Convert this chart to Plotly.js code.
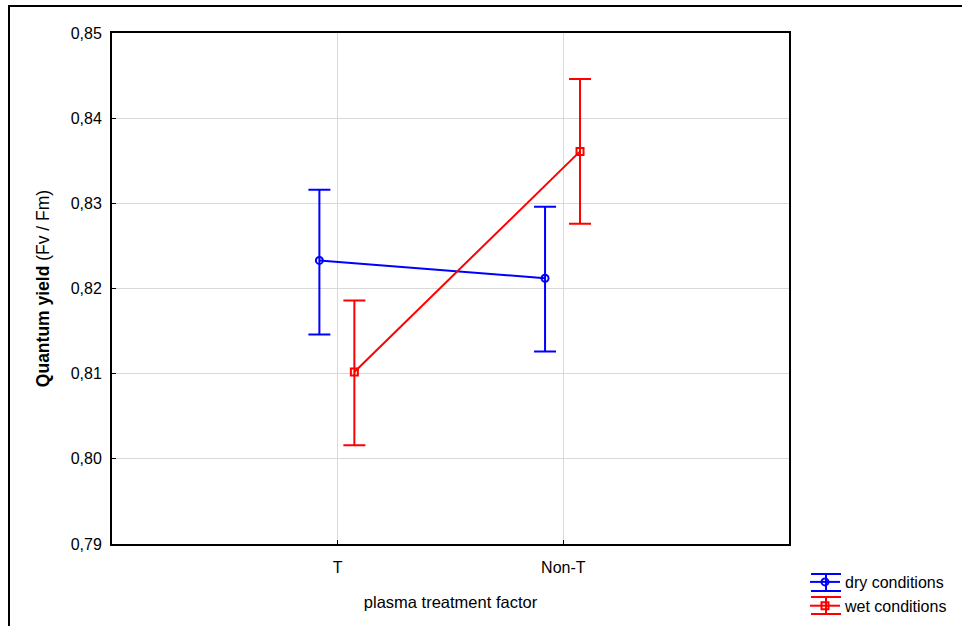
<!DOCTYPE html>
<html>
<head>
<meta charset="utf-8">
<script src="https://cdn.plot.ly/plotly-3.0.1.min.js"></script>
<style>html,body{margin:0;padding:0;background:#fff;}#chart{width:962px;height:626px;}</style>
</head>
<body>
<div id="chart"></div>
<script>
var categories = ['T', 'Non-T'];
var dryMean = [0.8233, 0.8212];
var dryUpper = [0.8316, 0.8296];
var dryLower = [0.8146, 0.8126];
var wetMean = [0.8102, 0.8361];
var wetUpper = [0.8186, 0.8446];
var wetLower = [0.8016, 0.8276];
var yTicks = [0.79, 0.80, 0.81, 0.82, 0.83, 0.84, 0.85];

var catIdx = categories.map(function (c, i) { return i; });
function offs(d) { return catIdx.map(function (i) { return i + d; }); }
function plus(u, m) { return u.map(function (v, i) { return v - m[i]; }); }
function minus(l, m) { return l.map(function (v, i) { return m[i] - v; }); }

var dry = {
  type: 'scatter', mode: 'lines+markers', name: 'dry conditions',
  x: offs(-0.081), y: dryMean,
  line: {color: '#0000ff', width: 2},
  marker: {symbol: 'circle-open', size: 7, color: '#0000ff', line: {width: 2, color: '#0000ff'}},
  error_y: {type: 'data', symmetric: false, array: plus(dryUpper, dryMean), arrayminus: minus(dryLower, dryMean),
            color: '#0000ff', thickness: 2, width: 11}
};
var wet = {
  type: 'scatter', mode: 'lines+markers', name: 'wet conditions',
  x: offs(0.074), y: wetMean,
  line: {color: '#ff0000', width: 2},
  marker: {symbol: 'square-open', size: 7, color: '#ff0000', line: {width: 2, color: '#ff0000'}},
  error_y: {type: 'data', symmetric: false, array: plus(wetUpper, wetMean), arrayminus: minus(wetLower, wetMean),
            color: '#ff0000', thickness: 2, width: 11}
};

var FAM = '"Liberation Sans", Arial, sans-serif';
var font = {family: FAM, size: 16, color: '#000'};
var L = 112, R = 173, T = 33, B = 82, W = 962, H = 626;
var pw = W - L - R, ph = H - T - B;
function px(x) { return (x - L) / pw; }
function py(y) { return (H - B - y) / ph; }

function legendIcon(cy, color) {
  return [
    {type: 'line', xref: 'paper', yref: 'paper', x0: px(811), x1: px(841), y0: py(cy - 8), y1: py(cy - 8), line: {color: color, width: 2}},
    {type: 'line', xref: 'paper', yref: 'paper', x0: px(811), x1: px(841), y0: py(cy + 9), y1: py(cy + 9), line: {color: color, width: 2}},
    {type: 'line', xref: 'paper', yref: 'paper', x0: px(826), x1: px(826), y0: py(cy - 8), y1: py(cy + 9), line: {color: color, width: 2}}
  ];
}

var layout = {
  width: W, height: H,
  margin: {l: L, r: R, t: T, b: B, pad: 0, autoexpand: false},
  paper_bgcolor: '#fff', plot_bgcolor: '#fff',
  separators: ', ',
  font: font,
  showlegend: true,
  legend: {xref: 'container', yref: 'container', x: 805 / W, xanchor: 'left', y: 1 - 565 / H, yanchor: 'top', font: font,
           bgcolor: 'rgba(0,0,0,0)', itemwidth: 30, tracegroupgap: 0},
  xaxis: {
    range: [-1, 2], tickmode: 'array', tickvals: catIdx, ticktext: categories,
    automargin: false,
    showgrid: true, gridcolor: '#d9d9d9', gridwidth: 1, zeroline: false,
    showline: true, linecolor: '#000', linewidth: 2, mirror: true,
    ticks: 'inside', ticklen: 4, tickwidth: 1, tickcolor: '#000',
    tickfont: font, ticklabelstandoff: 8,
    title: {text: 'plasma treatment factor', font: {family: FAM, size: 16.5, color: '#000'}, standoff: 21}
  },
  yaxis: {
    range: [0.79, 0.85], tickmode: 'array', tickvals: yTicks, tickformat: '.2f',
    automargin: false,
    showgrid: true, gridcolor: '#d9d9d9', gridwidth: 1, zeroline: false,
    showline: true, linecolor: '#000', linewidth: 2, mirror: true,
    ticks: 'inside', ticklen: 4, tickwidth: 1, tickcolor: '#000',
    tickfont: font, ticklabelstandoff: 5,
    title: {text: '<b>Quantum yield</b> (Fv / Fm)', font: {family: FAM, size: 17.5, color: '#000'}, standoff: 17}
  },
  shapes: [{
    type: 'rect', xref: 'paper', yref: 'paper', layer: 'below',
    x0: px(9), x1: px(990), y0: py(660), y1: py(6),
    line: {color: '#000', width: 2}, fillcolor: 'rgba(0,0,0,0)'
  }].concat(legendIcon(582, '#0000ff'), legendIcon(605, '#ff0000'))
};

Plotly.newPlot('chart', [dry, wet], layout, {displayModeBar: false, staticPlot: true});
</script>
</body>
</html>
